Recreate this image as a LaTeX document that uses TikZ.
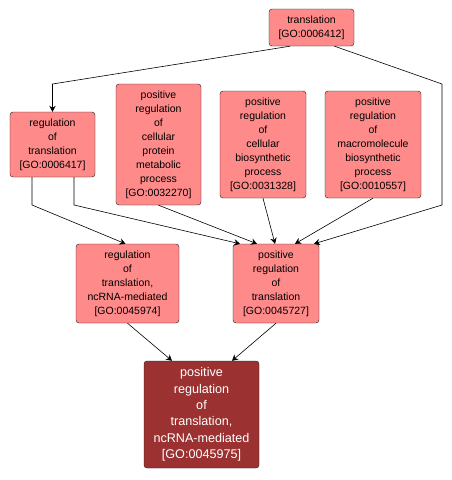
\documentclass[tikz,border=0pt]{standalone}
\usepackage{fontspec}
\setmainfont{Liberation Sans}
\usepackage{tikz}
\usetikzlibrary{arrows.meta, positioning}
\definecolor{rosaGO}{HTML}{FF8A8A}
\definecolor{rojoGO}{HTML}{9B3131}
\definecolor{bordeGO}{HTML}{1A1A1A}

\begin{document}
\begin{tikzpicture}[
        x=1pt, y=-1pt,
        term/.style={draw=bordeGO, fill=rosaGO, rounded corners=3pt, inner sep=0pt,
            align=center, font=\fontsize{10.5}{14}\selectfont},
        target/.style={term, fill=rojoGO, text=white, font=\fontsize{12.6}{16.4}\selectfont},
        rel/.style={-{Stealth[length=6pt, width=6.5pt, inset=2pt]}, black, line width=0.6pt}
    ]
        \useasboundingbox (0,0) rectangle (451,480);

        \node[term, minimum width=85, minimum height=37] (trans) at (311.5,27.5)
            {translation\\{[GO:0006412]}};
        \node[term, minimum width=85, minimum height=65] (regtr) at (52.5,144.5)
            {regulation\\of\\translation\\{[GO:0006417]}};
        \node[term, minimum width=85, minimum height=121] (protmet) at (158.5,144.5)
            {positive\\regulation\\of\\cellular\\protein\\metabolic\\process\\{[GO:0032270]}};
        \node[term, minimum width=86, minimum height=107] (cellbio) at (263,144.5)
            {positive\\regulation\\of\\cellular\\biosynthetic\\process\\{[GO:0031328]}};
        \node[term, minimum width=96, minimum height=107] (macro) at (373,144.5)
            {positive\\regulation\\of\\macromolecule\\biosynthetic\\process\\{[GO:0010557]}};
        \node[term, minimum width=103, minimum height=79] (ncrna) at (127.5,283.5)
            {regulation\\of\\translation,\\ncRNA-mediated\\{[GO:0045974]}};
        \node[term, minimum width=86, minimum height=79] (posreg) at (276,283.5)
            {positive\\regulation\\of\\translation\\{[GO:0045727]}};
        \node[target, minimum width=115, minimum height=107] (goal) at (201.5,414.5)
            {positive\\regulation\\of\\translation,\\ncRNA-mediated\\{[GO:0045975]}};

        \draw[rel] ([xshift=-21.5]trans.south) -- (52.5,84) -- (regtr.north);
        \draw[rel] ([xshift=23]trans.south) -- (442,84) -- (442,205) -- ([xshift=38]posreg.north);
        \draw[rel] ([xshift=-20.5]regtr.south) -- (32,205) -- ([xshift=-2]ncrna.north);
        \draw[rel] ([xshift=21.5]regtr.south) -- (74,205) -- ([xshift=-36]posreg.north);
        \draw[rel] (protmet.south) -- ([xshift=-19]posreg.north);
        \draw[rel] (cellbio.south) -- ([xshift=-1]posreg.north);
        \draw[rel] (macro.south) -- ([xshift=19]posreg.north);
        \draw[rel] (ncrna.south) -- ([xshift=-29.5]goal.north);
        \draw[rel] (posreg.south) -- ([xshift=30.5]goal.north);
    \end{tikzpicture}
\end{document}
